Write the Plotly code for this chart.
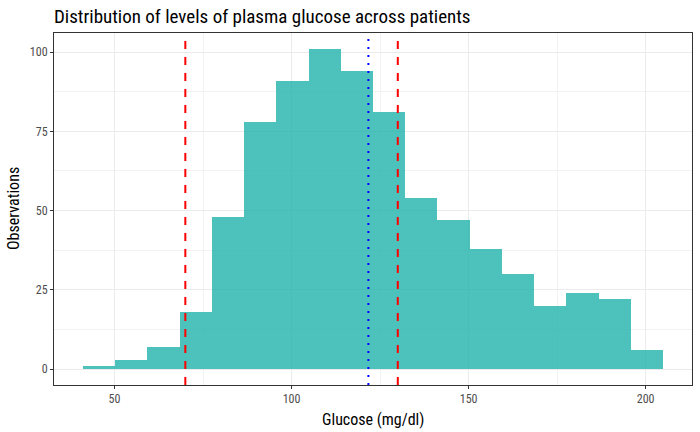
import plotly.graph_objects as go

# Histogram bins (left edges) and counts
bin_start = 41.1
bin_width = 9.1
counts = [1, 3, 7, 18, 48, 78, 91, 101, 94, 81, 54, 47, 38, 30, 20, 24, 22, 6]
red_lines = [70, 130]
mean_glucose = 121.7

centers = [bin_start + bin_width * (i + 0.5) for i in range(len(counts))]

FONT = "Roboto Condensed, Liberation Sans Narrow, Roboto, sans-serif"

fig = go.Figure()
fig.add_trace(go.Bar(
    x=centers, y=counts, width=bin_width,
    marker=dict(color="rgba(32,178,170,0.8)", line=dict(width=0)),
    showlegend=False, hoverinfo="skip",
))

for v in red_lines:
    fig.add_shape(type="line", x0=v, x1=v, y0=0, y1=1, xref="x", yref="paper",
                  line=dict(color="red", width=2, dash="8px,8px"))
fig.add_shape(type="line", x0=mean_glucose, x1=mean_glucose, y0=0, y1=1,
              xref="x", yref="paper",
              line=dict(color="blue", width=2, dash="2px,6px"))

xmin = bin_start
xmax = bin_start + bin_width * len(counts)
xpad = (xmax - xmin) * 0.05
ymax = max(counts)
ypad = ymax * 0.05

axis_common = dict(
    showline=True, linecolor="#333333", linewidth=1, mirror=True,
    ticks="outside", ticklen=3, tickcolor="#333333",
    tickfont=dict(family=FONT, size=12, color="#4D4D4D"),
    gridcolor="#EBEBEB", gridwidth=1, zeroline=False, automargin=False,
)

fig.add_annotation(text="Glucose (mg/dl)", xref="paper", yref="paper",
                   x=0.5, y=-34 / 352, xanchor="center", yanchor="middle",
                   showarrow=False, font=dict(family=FONT, size=16, color="black"))
fig.add_annotation(text="Observations", xref="paper", yref="paper",
                   x=-41 / 638, y=0.5, xanchor="center", yanchor="middle",
                   textangle=-90, showarrow=False,
                   font=dict(family=FONT, size=16, color="black"))

fig.update_layout(
    width=700, height=432,
    margin=dict(l=54, r=8, t=33, b=47),
    plot_bgcolor="white", paper_bgcolor="white",
    bargap=0,
    title=dict(text="Distribution of levels of plasma glucose across patients",
               x=54 / 700, xanchor="left", y=1 - 16 / 432, yanchor="middle",
               font=dict(family=FONT, size=19, color="black")),
    xaxis=dict(range=[xmin - xpad, xmax + xpad], tickvals=[50, 100, 150, 200],
               minor=dict(tickvals=[75, 125, 175], showgrid=True,
                          gridcolor="#F2F2F2", gridwidth=0.5, ticks=""),
               **axis_common),
    yaxis=dict(range=[-ypad, ymax + ypad], tickvals=[0, 25, 50, 75, 100],
               minor=dict(tickvals=[12.5, 37.5, 62.5, 87.5], showgrid=True,
                          gridcolor="#F2F2F2", gridwidth=0.5, ticks=""),
               **axis_common),
)

fig.write_html("out.html", config={"displayModeBar": False},
               post_script="document.body.style.margin='0';document.body.style.padding='0';")
